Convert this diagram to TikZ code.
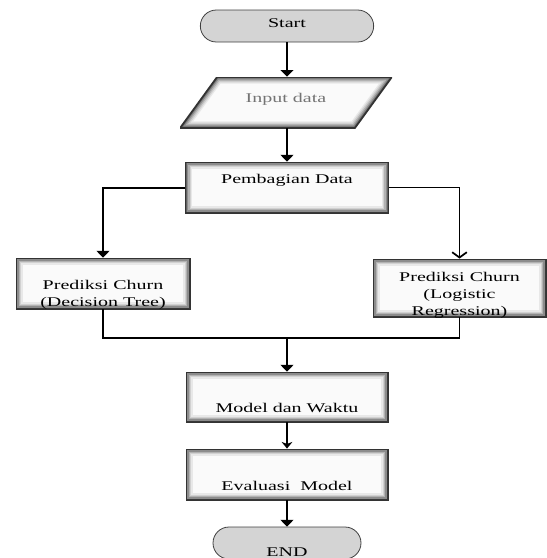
\documentclass[tikz,border=0pt]{standalone}
\usepackage{fontspec}
\setmainfont{Liberation Serif}[FakeStretch=1.5]
\usetikzlibrary{shapes.geometric, shapes.misc, arrows.meta, positioning, calc}

\begin{document}
\begin{tikzpicture}[x=0.75pt,y=-0.75pt,
  font=\fontsize{10}{12.75}\selectfont,
  glow/.style={path picture={
      \foreach \w/\c in {10pt/9,8pt/18,6pt/30,4pt/45,2.2pt/62,1pt/78}
        \draw[line width=\w,black!\c] (path picture bounding box.south west) rectangle (path picture bounding box.north east);}},
  ioglow/.style={path picture={
      \path (path picture bounding box.south west) coordinate (p1)
            ($(path picture bounding box.north west)+(27.75pt,0pt)$) coordinate (p2)
            (path picture bounding box.north east) coordinate (p3)
            ($(path picture bounding box.south east)-(27.75pt,0pt)$) coordinate (p4);
      \fill[black!2] (p1)--(p2)--(p3)--(p4)--cycle;
      \begin{scope}
        \clip (p1)--(p2)--(p3)--(p4)--cycle;
        \foreach \w/\c in {10pt/9,8pt/18,6pt/30,4pt/45,2.2pt/62,1pt/78}
          \draw[line width=\w,black!\c,line join=miter] (p1)--(p2)--(p3)--(p4)--cycle;
      \end{scope}
      \draw[line width=1.2pt,black!80,line join=miter] (p1)--(p2)--(p3)--(p4)--cycle;}},
  proc/.style={rectangle,draw=black!80,line width=0.6pt,fill=black!2,glow,inner sep=0pt},
  io/.style={rectangle,ioglow,inner sep=0pt,text=black!55},
  term/.style={rounded rectangle,draw=black!75,line width=0.6pt,fill=black!17,inner sep=0pt},
  lbl/.style={align=center,inner sep=0pt},
  arr/.style={-{Triangle[width=9.5pt,length=5pt]},line width=1.5pt},
  barb/.style={-{Straight Barb[width=11pt,length=4pt]},line width=1.3pt},
  thin/.style={-{Stealth[width=8pt,length=5pt,inset=1.5pt]},line width=1.1pt},
  ln/.style={line width=1pt}
]
  \useasboundingbox (0,0) rectangle (547,558);
  \node[term,minimum width=130pt,minimum height=24pt,label={[lbl,yshift=2.2pt]center:Start}](start) at (287,26){};
  \node[io,minimum width=159pt,minimum height=38.25pt,label={[lbl,yshift=2.6pt,text=black!55]center:Input data}](inp) at (286,102.5){};
  \node[proc,minimum width=152pt,minimum height=38.25pt,label={[lbl,yshift=5.6pt]center:Pembagian Data}](bagi) at (287,187.5){};
  \node[proc,minimum width=130.5pt,minimum height=38.25pt,label={[lbl,yshift=-8.2pt]center:Prediksi Churn\\(Decision Tree)}](dt) at (103,283.5){};
  \node[proc,minimum width=129.75pt,minimum height=43.5pt,label={[lbl,yshift=-5.2pt]center:Prediksi Churn\\(Logistic\\Regression)}](lr) at (459.5,288){};
  \coordinate (gab) at (287,338);
  \node[proc,minimum width=151.5pt,minimum height=37.5pt,label={[lbl,yshift=-8.2pt]center:Model dan Waktu}](model) at (287,397){};
  \node[proc,minimum width=151.5pt,minimum height=38.25pt,label={[lbl,yshift=-8.6pt]center:Evaluasi~ Model}](eval) at (287,474.5){};
  \node[term,minimum width=111pt,minimum height=24pt,label={[lbl,yshift=-6.5pt]center:END}](end) at (287,543){};
  \draw[arr](start)--(start.south|-inp.north); \draw[arr](start.south|-inp.south)--(bagi);
  \draw[arr](bagi.west)-|(dt.north);
  \draw[barb](bagi.east)-|(lr.north);
  \draw[ln](dt.south)|-(gab)-|(lr.south);
  \draw[arr](gab)--(model);
  \draw[thin](model)--(eval);
  \draw[arr](eval)--(end);
\end{tikzpicture}
\end{document}
